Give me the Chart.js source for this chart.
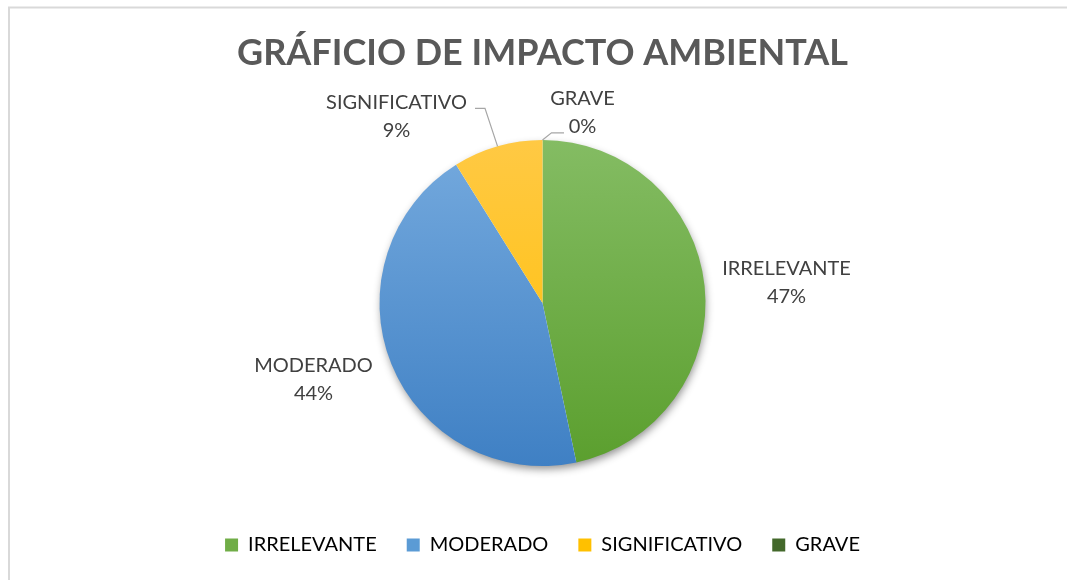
<!DOCTYPE html>
<html>
<head>
<meta charset="utf-8">
<script src="https://cdn.jsdelivr.net/npm/chart.js@4"></script>
<style>
  html, body { margin: 0; padding: 0; background: #fff; }
  #wrap { width: 1067px; height: 580px; position: relative; }
</style>
</head>
<body>
<div id="wrap"><canvas id="impactChart" width="1067" height="580"></canvas></div>
<script>
// datos del gráfico
const categorias = ['IRRELEVANTE', 'MODERADO', 'SIGNIFICATIVO', 'GRAVE'];
const valores = [21, 20, 4, 0];
const colores = ['#70ad47', '#5b9bd5', '#ffc000', '#43682b'];
const degradados = [
    ['#84bc63', '#5b9f2e'],
    ['#75aade', '#3f80c4'],
    ['#ffc944', '#ffbf00'],
    ['#4f7a35', '#375623']
];

// posición de las etiquetas respecto al centro del pastel
const etiquetas = [
    { dx: 244, dy: -20 },
    { dx: -229, dy: 77 },
    { dx: -146, dy: -186, guia: [[88.5, -8.7], [78.5, -8.7]] },
    { dx: 40, dy: -190, guia: [[-31, 19.8], [-18.5, 19.8]] }
];

const fuente = "Lato, 'Open Sans', sans-serif";
const RADIO = 163;

// marco gris del gráfico
const marcoPlugin = {
    id: 'marco',
    beforeDraw(chart) {
        const ctx = chart.ctx;
        ctx.save();
        ctx.strokeStyle = '#d9d9d9';
        ctx.lineWidth = 2;
        ctx.strokeRect(9, 7.5, 1070, 600);
        ctx.restore();
    }
};

// sombra debajo del pastel
const sombraPlugin = {
    id: 'sombra',
    beforeDatasetsDraw(chart) {
        const arc = chart.getDatasetMeta(0).data[0];
        if (!arc) return;
        const { x, y, outerRadius } = arc.getProps(['x', 'y', 'outerRadius'], true);
        const ctx = chart.ctx;
        ctx.save();
        ctx.shadowColor = 'rgba(0,0,0,0.45)';
        ctx.shadowBlur = 9;
        ctx.shadowOffsetX = 1;
        ctx.shadowOffsetY = 4;
        ctx.fillStyle = '#ffffff';
        ctx.beginPath();
        ctx.arc(x, y, outerRadius - 1, 0, Math.PI * 2);
        ctx.fill();
        ctx.restore();
    }
};

// etiquetas de datos con líneas guía
const etiquetasPlugin = {
    id: 'etiquetas',
    afterDatasetsDraw(chart) {
        const meta = chart.getDatasetMeta(0);
        const total = valores.reduce((s, v) => s + v, 0);
        const ctx = chart.ctx;
        ctx.save();
        ctx.font = `20px ${fuente}`;
        ctx.fillStyle = '#404040';
        ctx.textAlign = 'center';
        ctx.textBaseline = 'middle';
        meta.data.forEach((arc, i) => {
            const p = arc.getProps(['x', 'y', 'startAngle', 'endAngle', 'outerRadius'], true);
            const cx = p.x + etiquetas[i].dx;
            const cy = p.y + etiquetas[i].dy;
            const pct = Math.round(valores[i] / total * 100) + '%';
            ctx.fillText(categorias[i], cx, cy - 14);
            ctx.fillText(pct, cx, cy + 14);

            if (etiquetas[i].guia) {
                const mid = (p.startAngle + p.endAngle) / 2;
                ctx.beginPath();
                ctx.strokeStyle = '#a6a6a6';
                ctx.lineWidth = 1.2;
                ctx.moveTo(p.x + Math.cos(mid) * p.outerRadius, p.y + Math.sin(mid) * p.outerRadius);
                etiquetas[i].guia.forEach(pt => ctx.lineTo(cx + pt[0], cy + pt[1]));
                ctx.stroke();
            }
        });
        ctx.restore();
    }
};

new Chart(document.getElementById('impactChart'), {
    type: 'pie',
    data: {
        labels: categorias,
        datasets: [{
            data: valores,
            borderWidth: 0,
            backgroundColor: (c) => {
                const area = c.chart.chartArea;
                const par = degradados[c.dataIndex];
                if (!area) return colores[c.dataIndex];
                const centroY = (area.top + area.bottom) / 2;
                const g = c.chart.ctx.createLinearGradient(0, centroY - RADIO, 0, centroY + RADIO);
                g.addColorStop(0, par[0]);
                g.addColorStop(1, par[1]);
                return g;
            }
        }]
    },
    options: {
        responsive: false,
        animation: false,
        radius: RADIO,
        layout: { padding: { left: 18, right: 0, top: 0, bottom: 15 } },
        plugins: {
            title: {
                display: true,
                text: 'GRÁFICIO DE IMPACTO AMBIENTAL',
                color: '#595959',
                font: { family: fuente, size: 36, weight: 'bold' },
                lineHeight: 1.2,
                padding: { top: 32, bottom: 25.8 }
            },
            legend: {
                position: 'bottom',
                labels: {
                    color: '#595959',
                    font: { family: fuente, size: 20 },
                    boxWidth: 13,
                    boxHeight: 13,
                    padding: 30,
                    generateLabels: () => categorias.map((n, i) => ({
                        text: n,
                        fillStyle: colores[i],
                        strokeStyle: colores[i],
                        lineWidth: 0,
                        hidden: false,
                        index: i
                    }))
                }
            },
            tooltip: { enabled: false }
        }
    },
    plugins: [marcoPlugin, sombraPlugin, etiquetasPlugin]
});
</script>
</body>
</html>
